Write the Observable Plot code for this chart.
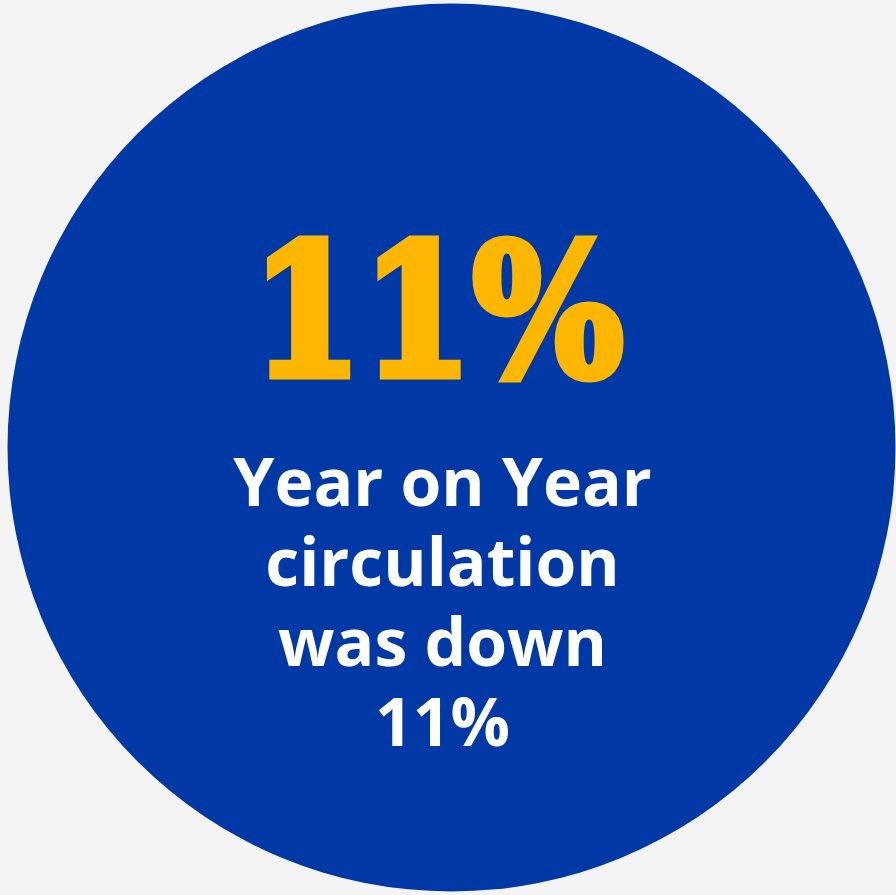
<!DOCTYPE html>
<html>
<head>
<meta charset="utf-8">
<script src="https://cdn.jsdelivr.net/npm/d3@7"></script>
<script src="https://cdn.jsdelivr.net/npm/@observablehq/plot@0.6"></script>
<style>
  html, body { margin: 0; padding: 0; background: #f4f4f4; }
  #chart svg { display: block; }
</style>
</head>
<body>
<div id="chart"></div>
<script>
// Data
const metric = ["Year on Year circulation"];
const changePct = [11];
const captionLines = ["Year on Year", "circulation", "was down", "11%"];

// Layout (pixel space)
const W = 896, H = 895;
const circle = [{cx: 451, cy: 447}];
const bigLabel = [{x: 437, y: 374, text: `${changePct[0]}%`}];
const caption = [{x: 442, y: 745, text: captionLines.join("\n")}];

const chart = Plot.plot({
  width: W,
  height: H,
  margin: 0,
  x: {domain: [0, W], range: [0, W], axis: null},
  y: {domain: [0, H], range: [0, H], axis: null},
  style: {background: "#f4f4f4"},
  marks: [
    Plot.dot(circle, {x: "cx", y: "cy", r: 444, fill: "#0039a6", stroke: "none"}),
    Plot.text(bigLabel, {
      x: "x", y: "y", text: "text",
      fill: "#fdb700",
      stroke: "#fdb700",
      strokeWidth: 9,
      strokeLinejoin: "miter",
      fontFamily: "DejaVu Serif, Liberation Serif, serif",
      fontWeight: "bold",
      fontSize: 182,
      textAnchor: "middle",
      lineAnchor: "bottom",
      className: "big"
    }),
    Plot.text(caption, {
      x: "x", y: "y", text: "text",
      fill: "#ffffff",
      fontFamily: "Open Sans",
      fontWeight: "bold",
      fontSize: 66,
      lineHeight: 80 / 66,
      textAnchor: "middle",
      lineAnchor: "bottom"
    })
  ]
});
document.getElementById("chart").appendChild(chart);
// condense big number to match the reference width
d3.select(chart).selectAll(".big text")
  .attr("textLength", 372)
  .attr("lengthAdjust", "spacingAndGlyphs");
</script>
</body>
</html>
